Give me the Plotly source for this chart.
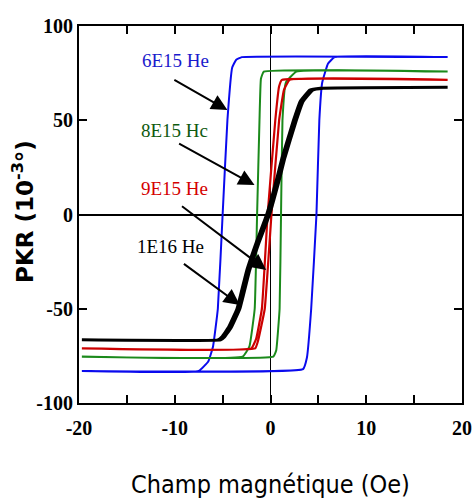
import plotly.graph_objects as go

# ---- data (field in Oe, PKR in 1e-3 deg) ----
# each loop: descending branch (from +H) then ascending branch (from -H)
blue_desc_h = [18.5, -3.0, -3.6, -4.0, -4.5, -5.0, -5.5, -6.0, -6.5, -7.5, -19.7]
blue_desc_k = [83.5, 83.5, 82, 78, 50, 0, -50, -70, -78, -83, -83]
blue_asc_h = [-19.7, 3.4, 3.8, 4.25, 4.8, 5.1, 5.4, 6.0, 6.7, 18.5]
blue_asc_k = [-83, -82, -76, -50, 0, 50, 70, 80, 83.5, 83.5]

green_desc_h = [18.5, -0.7, -1.0, -1.15, -1.4, -1.65, -2.2, -2.9, -19.7]
green_desc_k = [75.8, 75.8, 72, 50, 0, -50, -70, -75.4, -75.4]
green_asc_h = [-19.7, 0.3, 0.6, 0.95, 1.1, 1.25, 1.6, 2.7, 18.5]
green_asc_k = [-75.4, -75.4, -72, -50, 0, 50, 70, 75.8, 75.8]

red_desc_h = [18.5, 1.2, 0.9, 0.5, -0.3, -0.9, -1.5, -2.0, -19.7]
red_desc_k = [71.4, 71.4, 68, 50, 0, -50, -66, -71, -71]
red_asc_h = [-19.7, -1.6, -1.3, -0.6, 0.1, 0.9, 1.4, 2.0, 18.5]
red_asc_k = [-71, -71, -67, -50, 0, 50, 66, 71.4, 71.4]

black_desc_h = [18.5, 5.2, 4.1, 3.1, 2.4, 1.2, 0.7, -0.4, -1.5, -2.5, -3.5, -4.4, -5.1, -5.5, -19.7]
black_desc_k = [67.5, 67, 66, 60, 50, 30, 20, 0, -15, -30, -50, -60, -65, -66.5, -66.5]
black_asc_h = [-19.7, -5.2, -4.8, -4.1, -3.2, -2.2, -1.2, -0.1, 1.0, 1.5, 2.7, 3.4, 4.4, 5.5, 18.5]
black_asc_k = [-66.5, -66.5, -65, -60, -50, -30, -15, 0, 20, 30, 50, 60, 66, 67, 67.5]

labels = ["6E15 He", "8E15 Hc", "9E15 He", "1E16 He"]
label_colors = ["#1a1acc", "#0f5a0f", "#d40000", "#000000"]
label_x = [-9.9, -10.0, -10.0, -10.4]
label_y = [81.5, 44.5, 14.0, -17.0]
arrow_tail_x = [-10.2, -9.7, -9.4, -9.2]
arrow_tail_y = [71.9, 38.0, 5.0, -25.6]
arrow_head_x = [-4.5, -1.67, -0.45, -3.2]
arrow_head_y = [55.4, 15.6, -29.4, -48.0]

x_tickvals = [-20, -10, 0, 10, 20]
x_ticktext = ["-20", "-10", "0", "10", "20"]
y_tickvals = [-100, -50, 0, 50, 100]
y_ticktext = ["-100", "-50", "0", "50", "100"]

series = [
    (blue_desc_h + blue_asc_h, blue_desc_k + blue_asc_k, "#0a0aee", 2),
    (green_desc_h + green_asc_h, green_desc_k + green_asc_k, "#1b8a1b", 2),
    (red_desc_h + red_asc_h, red_desc_k + red_asc_k, "#cc0000", 2.2),
    (black_desc_h + black_asc_h, black_desc_k + black_asc_k, "#000000", 3.0),
]

fig = go.Figure()
for hx, ky, col, w in series:
    fig.add_trace(go.Scatter(x=hx, y=ky, mode="lines",
                             line=dict(color=col, width=w, shape="spline", smoothing=0.3),
                             showlegend=False, hoverinfo="skip"))

serif = "Liberation Serif"
annotations = []
for t, c, lx, ly in zip(labels, label_colors, label_x, label_y):
    annotations.append(dict(x=lx, y=ly, xref="x", yref="y", text=t, showarrow=False,
                            xanchor="center", yanchor="middle",
                            font=dict(family=serif, size=19, color=c)))
for tx, ty, hx, hy in zip(arrow_tail_x, arrow_tail_y, arrow_head_x, arrow_head_y):
    annotations.append(dict(x=hx, y=hy, xref="x", yref="y", ax=tx, ay=ty, axref="x", ayref="y",
                            text="", showarrow=True, arrowhead=2, arrowsize=1.6, arrowwidth=2,
                            arrowcolor="black", standoff=0))
annotations.append(dict(x=-0.146, y=0.507, xref="paper", yref="paper", text="PKR (10<sup>-3</sup>°)",
                        textangle=-90, showarrow=False, xanchor="center", yanchor="middle",
                        font=dict(family="DejaVu Sans", size=23, color="black", weight="bold")))
annotations.append(dict(x=0.5, y=-0.216, xref="paper", yref="paper", text="Champ magnétique (Oe)",
                        showarrow=False, xanchor="center", yanchor="middle",
                        font=dict(family="DejaVu Sans Condensed, DejaVu Sans", size=25, color="black")))

fig.update_layout(
    width=473, height=504,
    margin=dict(l=79, r=11, t=26, b=101),
    plot_bgcolor="white", paper_bgcolor="white",
    annotations=annotations,
    font=dict(family=serif, size=20, color="black"),
)
fig.update_xaxes(range=[-20, 20], tickvals=x_tickvals, ticktext=x_ticktext, ticks="inside", ticklen=8,
                 tickwidth=1.5, tickcolor="black", showline=True, linewidth=2, linecolor="black", mirror="ticks",
                 minor=dict(dtick=5, tick0=0, ticks="inside", ticklen=8, tickwidth=1.5, tickcolor="black", showgrid=False),
                 showgrid=False, zeroline=True, zerolinecolor="black", zerolinewidth=1,
                 ticklabelstandoff=6, automargin=False,
                 tickfont=dict(family=serif, size=20, color="black", weight="bold"))
fig.update_yaxes(range=[-100, 100], tickvals=y_tickvals, ticktext=y_ticktext, ticks="inside", ticklen=8,
                 tickwidth=1.5, tickcolor="black", showline=True, linewidth=2, linecolor="black", mirror="ticks",
                 showgrid=False, zeroline=True, zerolinecolor="black", zerolinewidth=2, automargin=False,
                 tickfont=dict(family=serif, size=20, color="black", weight="bold"))

fig.write_html("out.html", config={"displayModeBar": False},
               post_script="document.body.style.margin='0';document.body.style.overflow='hidden';")
